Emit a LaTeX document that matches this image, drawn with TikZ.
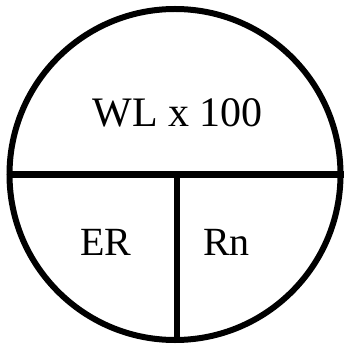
\documentclass[tikz,border=0pt]{standalone}
\usepackage{fontspec}
\setmainfont{Liberation Serif}

\begin{document}
\begin{tikzpicture}[x=1pt, y=-1pt,
  rim/.style={draw=black, line width=6pt},
  big/.style={font=\fontsize{42}{46}\selectfont, anchor=base, inner sep=0pt},
  small/.style={font=\fontsize{40}{44}\selectfont, anchor=base, inner sep=0pt}]

  \useasboundingbox (0,0) rectangle (343,347);

  % outer circle
  \node[rim, circle, minimum size=331pt, inner sep=0pt] (disc) at (175,174.5) {};

  % dividers
  \draw[rim] (disc.west) -- (disc.east);
  \draw[rim] (disc.center -| 176.5,0) -- (disc.south -| 176.5,0);

  % labels
  \node[big] (wl) at (177.5,127) {WL x 100};
  \node[small] (er) at (106,255) {ER};
  \node[small] (rn) at (226.5,255) {Rn};
\end{tikzpicture}
\end{document}
